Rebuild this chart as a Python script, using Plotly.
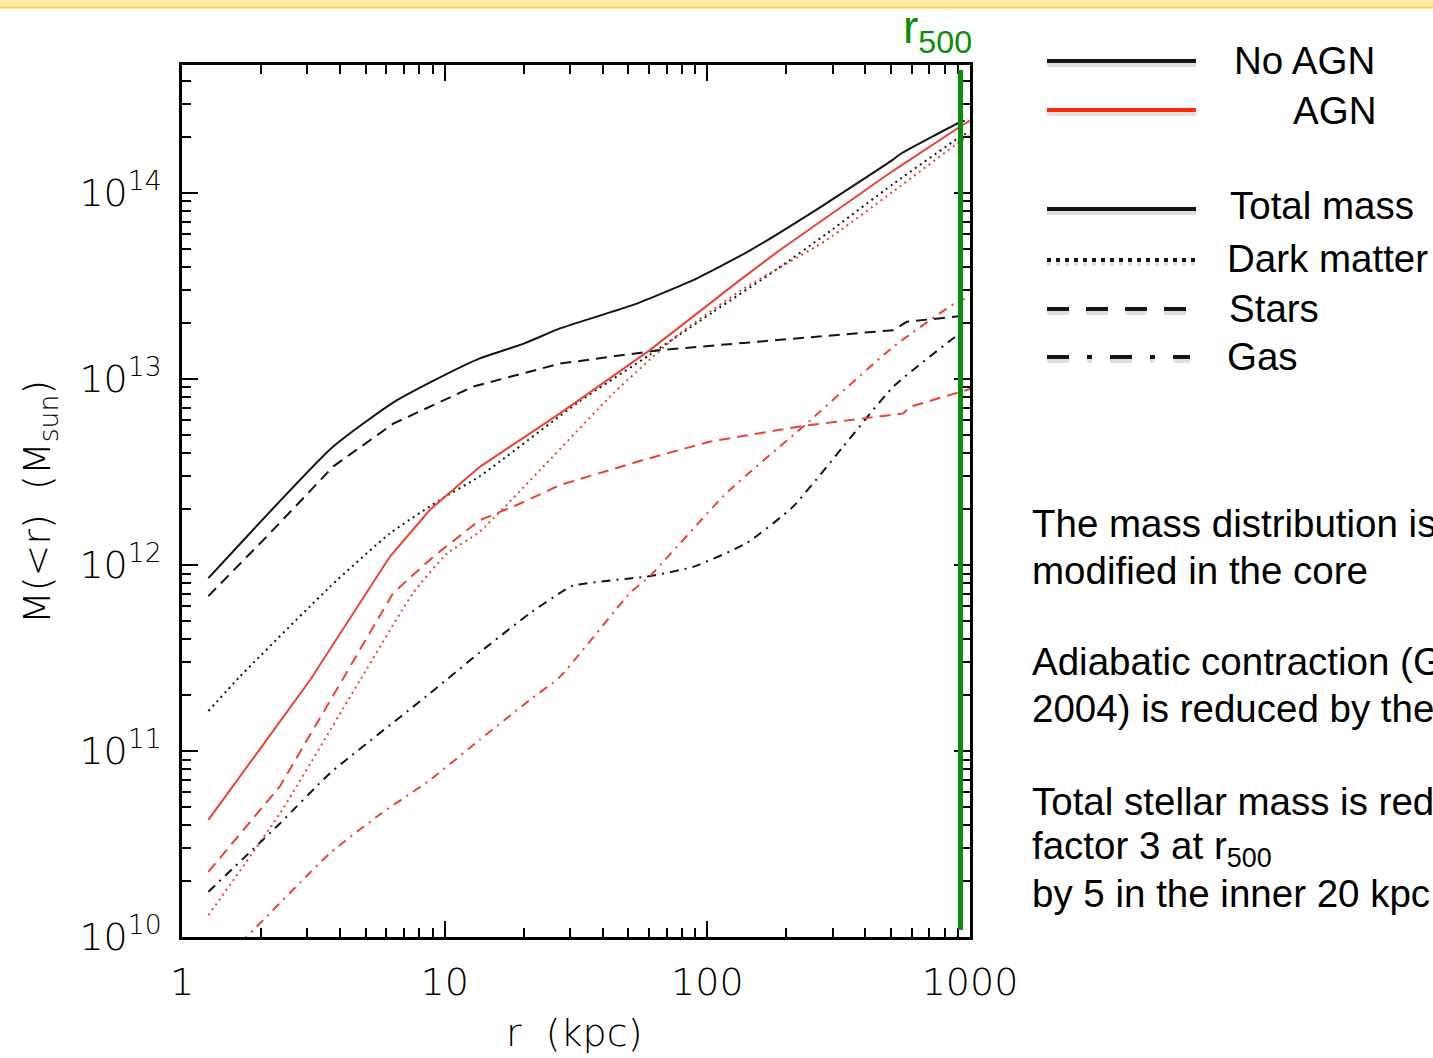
import plotly.graph_objects as go

# ---- enclosed mass profiles, M(<r) in M_sun versus r in kpc ----
# No AGN run
r_tot_noagn = [1.26, 3.72, 6.3, 9.35, 13.6, 20, 27.5, 52.5, 88.3, 145, 284, 509, 543, 916, 955]
m_tot_noagn = [8.5e11, 4.27e12, 7.4e12, 1.0e13, 1.29e13, 1.55e13, 1.87e13, 2.51e13, 3.4e13,
               4.9e13, 8.8e13, 1.51e14, 1.62e14, 2.4e14, 2.45e14]

r_dm_noagn = [1.26, 1.66, 3.66, 6.19, 9.6, 13.6, 32.7, 60.4, 105, 184, 284, 511, 916, 1000]
m_dm_noagn = [1.64e11, 2.51e11, 7.64e11, 1.48e12, 2.24e12, 3.0e12, 7.6e12, 1.35e13, 2.29e13,
              3.89e13, 6.03e13, 1.12e14, 2.0e14, 2.14e14]

r_star_noagn = [1.26, 2.16, 3.77, 6.37, 12.85, 27.5, 66.1, 212, 511, 574, 905, 955]
m_star_noagn = [6.8e11, 1.48e12, 3.39e12, 5.75e12, 9.1e12, 1.21e13, 1.43e13, 1.65e13, 1.83e13,
                2.03e13, 2.16e13, 2.19e13]

r_gas_noagn = [1.26, 2.36, 3.66, 8.79, 13.6, 21.1, 27.5, 30.9, 50.7, 58.7, 88.3, 141, 212, 329,
               511, 916, 955]
m_gas_noagn = [1.75e10, 4.08e10, 7.59e10, 2.04e11, 3.39e11, 5.5e11, 7.08e11, 7.76e11, 8.47e11,
               8.65e11, 9.77e11, 1.31e12, 2.06e12, 4.33e12, 9.1e12, 1.76e13, 1.82e13]

# AGN run
r_tot_agn = [1.26, 3.07, 6.19, 8.79, 13.6, 27.5, 60.4, 133, 189, 284, 511, 916, 1000]
m_tot_agn = [4.26e10, 2.4e11, 1.11e12, 1.98e12, 3.37e12, 6.53e12, 1.43e13, 3.4e13, 4.94e13,
             7.41e13, 1.32e14, 2.27e14, 2.45e14]

r_dm_agn = [1.26, 2.36, 4.76, 7.59, 10.2, 13.6, 24.4, 43.9, 78.7, 141, 189, 284, 511, 916, 1000]
m_dm_agn = [1.31e10, 4.62e10, 2.4e11, 7.08e11, 1.15e12, 1.51e12, 3.52e12, 8.38e12, 1.76e13,
            3.13e13, 3.98e13, 5.58e13, 1.02e14, 1.89e14, 2.04e14]

r_star_agn = [1.26, 2.36, 3.99, 6.37, 9.06, 13.6, 19.4, 27.5, 57.0, 102, 225, 557, 590, 889, 1000]
m_star_agn = [2.24e10, 6.46e10, 2.29e11, 7.08e11, 1.11e12, 1.74e12, 2.14e12, 2.69e12, 3.67e12,
              4.6e12, 5.56e12, 6.53e12, 7.08e12, 8.38e12, 8.83e12]

r_gas_agn = [1.26, 1.76, 3.66, 5.68, 8.79, 13.6, 21.1, 27.5, 50.7, 60.4, 118, 239, 511, 916, 955]
m_gas_agn = [6.2e9, 1.0e10, 2.82e10, 4.57e10, 6.98e10, 1.15e11, 1.88e11, 2.51e11, 7.05e11,
             8.71e11, 2.43e12, 5.77e12, 1.49e13, 2.66e13, 2.69e13]

R500 = 920.0  # kpc

# ---- axis ticks ----
x_ticks = [1, 10, 100, 1000]
x_ticklabels = ["1", "10", "100", "1000"]
y_ticks = [1e10, 1e11, 1e12, 1e13, 1e14]
y_ticklabels = ["10<sup>10</sup>", "10<sup>11</sup>", "10<sup>12</sup>",
                "10<sup>13</sup>", "10<sup>14</sup>"]
x_minor = [k * d for d in (1, 10, 100) for k in range(2, 10)]
y_minor = [k * d for d in (1e10, 1e11, 1e12, 1e13, 1e14) for k in range(2, 10)]

# ---- legend and notes ----
legend_runs = ["No AGN", "AGN"]
legend_components = ["Total mass", "Dark matter", "Stars", "Gas"]
notes = [
    "The mass distribution is",
    "modified in the core",
    "Adiabatic contraction (G",
    "2004) is reduced by the",
    "Total stellar mass is red",
    "factor 3 at r<sub>500</sub>",
    "by 5 in the inner 20 kpc",
]

BLACK = "#141414"
RED = "#ea4330"
LEG_RED = "#ff2a0a"
GREEN = "#0c8c0c"
DOT = "2px,4px"
DASH = "11px,7px"
DASHDOT = "9px,6px,2px,6px"

W, H = 1433, 1058
PL, PR, PT, PB = 182, 970, 65, 937


def fx(px):
    return (px - PL) / (PR - PL)


def fy(py):
    return (PB - py) / (PB - PT)


fig = go.Figure()

series = [
    (r_dm_noagn, m_dm_noagn, BLACK, DOT, "spline"),
    (r_dm_agn, m_dm_agn, RED, DOT, "spline"),
    (r_gas_noagn, m_gas_noagn, BLACK, DASHDOT, "spline"),
    (r_gas_agn, m_gas_agn, RED, DASHDOT, "spline"),
    (r_star_noagn, m_star_noagn, BLACK, DASH, "linear"),
    (r_star_agn, m_star_agn, RED, DASH, "linear"),
    (r_tot_noagn, m_tot_noagn, BLACK, "solid", "spline"),
    (r_tot_agn, m_tot_agn, RED, "solid", "linear"),
]
for r, m, col, dash, shape in series:
    fig.add_trace(go.Scatter(x=r, y=m, mode="lines",
                             line=dict(color=col, width=2, dash=dash, shape=shape,
                                       smoothing=0.5),
                             showlegend=False, hoverinfo="skip"))

AX_FONT = dict(family="DejaVu Sans", size=38, color="#000000", weight=200)
TXT_FONT = dict(family="Liberation Sans, Arial, sans-serif", size=38.5, color="black")

common = dict(type="log", ticks="inside", ticklen=16, tickwidth=2, tickcolor="black",
              showline=True, linecolor="black", linewidth=2.5, mirror="ticks",
              showgrid=False, zeroline=False, tickfont=AX_FONT)

fig.update_xaxes(range=[0, 3], tickmode="array", tickvals=x_ticks, ticktext=x_ticklabels,
                 ticklabelstandoff=10,
                 minor=dict(tickmode="array", tickvals=x_minor, ticks="inside", ticklen=9,
                            tickwidth=1.5, tickcolor="black", showgrid=False),
                 **common)
fig.update_yaxes(range=[10, 14.688], tickmode="array", tickvals=y_ticks, ticktext=y_ticklabels,
                 ticklabelstandoff=10,
                 minor=dict(tickmode="array", tickvals=y_minor, ticks="inside", ticklen=9,
                            tickwidth=1.5, tickcolor="black", showgrid=False),
                 **common)

shapes = []
# r500 marker
shapes.append(dict(type="line", xref="x", yref="paper", x0=R500, x1=R500,
                   y0=fy(930), y1=fy(70), line=dict(color=GREEN, width=5)))
# banner strip along the top edge
shapes.append(dict(type="rect", xref="paper", yref="paper", x0=fx(-5), x1=fx(W + 5),
                   y0=fy(7), y1=fy(-5), fillcolor="#fdeba3", line=dict(width=0), layer="below"))
shapes.append(dict(type="line", xref="paper", yref="paper", x0=fx(-5), x1=fx(W + 5),
                   y0=fy(7.5), y1=fy(7.5), line=dict(color="#f4d35c", width=2)))

# legend swatches: (y pixel, x end, colour, dash)
swatches = [
    (61, 1196, BLACK, "solid"),
    (110, 1196, LEG_RED, "solid"),
    (209, 1196, BLACK, "solid"),
    (260, 1196, BLACK, "4px,5px"),
    (309, 1186, BLACK, "22px,17px"),
    (357, 1190, BLACK, "22px,18px,5px,18px"),
]
for y, xe, col, dash in swatches:
    shapes.append(dict(type="line", xref="paper", yref="paper", x0=fx(1047), x1=fx(xe),
                       y0=fy(y + 4), y1=fy(y + 4),
                       line=dict(color="rgba(0,0,0,0.12)", width=4, dash=dash)))
    shapes.append(dict(type="line", xref="paper", yref="paper", x0=fx(1047), x1=fx(xe),
                       y0=fy(y), y1=fy(y), line=dict(color=col, width=4, dash=dash)))

annotations = []
# axis titles
annotations.append(dict(text="M(&lt;r)\u00a0 (M<sub>sun</sub>)", xref="paper", yref="paper",
                        x=fx(40), y=fy(502), textangle=-90, showarrow=False,
                        xanchor="center", yanchor="middle", font=AX_FONT))
annotations.append(dict(text="r\u00a0 (kpc)", xref="paper", yref="paper",
                        x=fx(574), y=fy(1033), showarrow=False,
                        xanchor="center", yanchor="middle", font=AX_FONT))
# r500 label
annotations.append(dict(text="r<sub>500</sub>", xref="paper", yref="paper",
                        x=fx(901), y=fy(30), showarrow=False, xanchor="left", yanchor="middle",
                        font=dict(family="Liberation Sans, Arial, sans-serif", size=46,
                                  color=GREEN)))
# legend labels
for txt, (x, y) in zip(legend_runs, [(1232, 61), (1291, 111)]):
    annotations.append(dict(text=txt, xref="paper", yref="paper", x=fx(x), y=fy(y),
                            showarrow=False, xanchor="left", yanchor="middle", font=TXT_FONT))
for txt, (x, y) in zip(legend_components, [(1228, 205), (1225, 258), (1227, 308), (1225, 356)]):
    annotations.append(dict(text=txt, xref="paper", yref="paper", x=fx(x), y=fy(y),
                            showarrow=False, xanchor="left", yanchor="middle", font=TXT_FONT))
# notes
for txt, y in zip(notes, [523, 570, 661, 708, 801, 848, 893]):
    annotations.append(dict(text=txt, xref="paper", yref="paper", x=fx(1030), y=fy(y),
                            showarrow=False, xanchor="left", yanchor="middle", font=TXT_FONT))

fig.update_layout(width=W, height=H, margin=dict(l=PL, r=W - PR, t=PT, b=H - PB),
                  paper_bgcolor="white", plot_bgcolor="white", showlegend=False,
                  shapes=shapes, annotations=annotations)

fig.write_html("out.html")
